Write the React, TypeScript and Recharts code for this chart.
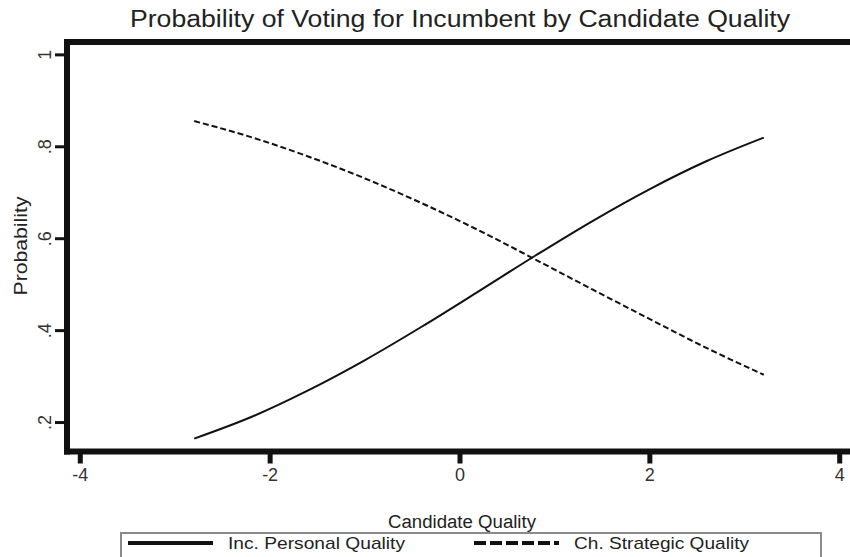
import React from "react"
import { LineChart, Line, XAxis, YAxis, Legend } from "recharts"

// candidate quality (x) and predicted probabilities
const quality = [-2.8, -2.2, -1.6, -1.0, -0.4, 0.2, 0.8, 1.4, 2.0, 2.6, 3.2]
const incPersonal = [0.165, 0.212, 0.27, 0.336, 0.409, 0.486, 0.564, 0.639, 0.708, 0.769, 0.82]
const chStrategic = [0.856, 0.821, 0.779, 0.731, 0.677, 0.618, 0.554, 0.489, 0.425, 0.362, 0.304]

const xTicks = [-4, -2, 0, 2, 4]
const yTicks = [0.2, 0.4, 0.6, 0.8, 1]
const yTickLabels = [".2", ".4", ".6", ".8", "1"]

const data = quality.map((q, i) => ({
  q,
  inc: incPersonal[i],
  ch: chStrategic[i],
}))

const FONT = "'Liberation Sans', Arial, sans-serif"
const INK = "#111"

const XTick = ({ x, payload }: any) => (
  <text x={x} y={481} textAnchor="middle" fontFamily={FONT} fontSize={18} fill="#333">
    {payload.value < 0 ? `-${Math.abs(payload.value)}` : payload.value}
  </text>
)

const YTick = ({ x, y, payload }: any) => {
  const idx = yTicks.indexOf(payload.value)
  return (
    <text
      transform={`translate(${x - 2}, ${y}) rotate(-90)`}
      textAnchor="middle"
      fontFamily={FONT}
      fontSize={18}
      fill="#333"
    >
      {idx >= 0 ? yTickLabels[idx] : payload.value}
    </text>
  )
}

const LegendBox = () => (
  <svg width={710} height={30} style={{ display: "block" }}>
    <rect x={1} y={1} width={700} height={40} fill="#fff" stroke="#8a8a8a" strokeWidth={2} />
    <line x1={8} x2={93} y1={11} y2={11} stroke={INK} strokeWidth={4} />
    <text x={108} y={17} fontFamily={FONT} fontSize={17} fill="#222" textLength={177} lengthAdjust="spacingAndGlyphs">
      Inc. Personal Quality
    </text>
    <line x1={354} x2={439} y1={11} y2={11} stroke={INK} strokeWidth={4} strokeDasharray="12 4" />
    <text x={454} y={17} fontFamily={FONT} fontSize={17} fill="#222" textLength={175} lengthAdjust="spacingAndGlyphs">
      Ch. Strategic Quality
    </text>
  </svg>
)

// labels drawn with the bottom axis: title and axis title
const AxisTitles = () => (
  <g>
    <text x={460} y={27} textAnchor="middle" fontFamily={FONT} fontSize={23} fill="#222" textLength={660} lengthAdjust="spacingAndGlyphs">
      Probability of Voting for Incumbent by Candidate Quality
    </text>
    <text x={462} y={528} textAnchor="middle" fontFamily={FONT} fontSize={18} fill="#222" textLength={148} lengthAdjust="spacingAndGlyphs">
      Candidate Quality
    </text>
  </g>
)

export default function App() {
  return (
    <div style={{ position: "absolute", left: 0, top: 0, width: 850, height: 557, overflow: "hidden", background: "#fff" }}>
      <LineChart width={860} height={557} data={data} margin={{ top: 41, right: 7, bottom: 45.5, left: 7 }}>
        <XAxis
          xAxisId="top"
          orientation="top"
          dataKey="q"
          type="number"
          domain={[-4.14, 4.14]}
          allowDataOverflow
          height={1}
          tick={false}
          tickLine={false}
          axisLine={{ stroke: INK, strokeWidth: 6, strokeLinecap: "square" }}
        />
        <XAxis
          dataKey="q"
          type="number"
          domain={[-4.14, 4.14]}
          allowDataOverflow
          ticks={xTicks}
          interval={0}
          height={30}
          tickSize={12}
          tick={<XTick />}
          tickLine={{ stroke: INK, strokeWidth: 5 }}
          axisLine={{ stroke: INK, strokeWidth: 6, strokeLinecap: "square" }}
          label={{ content: () => <AxisTitles /> }}
        />
        <YAxis
          type="number"
          domain={[0.137, 1.028]}
          allowDataOverflow
          ticks={yTicks}
          interval={0}
          width={60}
          tickSize={12}
          tick={<YTick />}
          tickLine={{ stroke: INK, strokeWidth: 3 }}
          axisLine={{ stroke: INK, strokeWidth: 6, strokeLinecap: "square" }}
          label={{
            content: () => (
              <text transform="translate(27, 246) rotate(-90)" textAnchor="middle" fontFamily={FONT} fontSize={19} fill="#222" textLength={99} lengthAdjust="spacingAndGlyphs">
                Probability
              </text>
            ),
          }}
        />
        <Legend
          verticalAlign="bottom"
          content={() => <LegendBox />}
          wrapperStyle={{ position: "absolute", left: 120, top: 532, width: 710, bottom: "auto" }}
        />
        <Line
          xAxisId={0}
          dataKey="inc"
          name="Inc. Personal Quality"
          type="monotone"
          stroke={INK}
          strokeWidth={2}
          dot={false}
          isAnimationActive={false}
        />
        <Line
          xAxisId={0}
          dataKey="ch"
          name="Ch. Strategic Quality"
          type="monotone"
          stroke={INK}
          strokeWidth={2}
          strokeDasharray="6 3"
          dot={false}
          isAnimationActive={false}
        />
      </LineChart>
    </div>
  )
}
